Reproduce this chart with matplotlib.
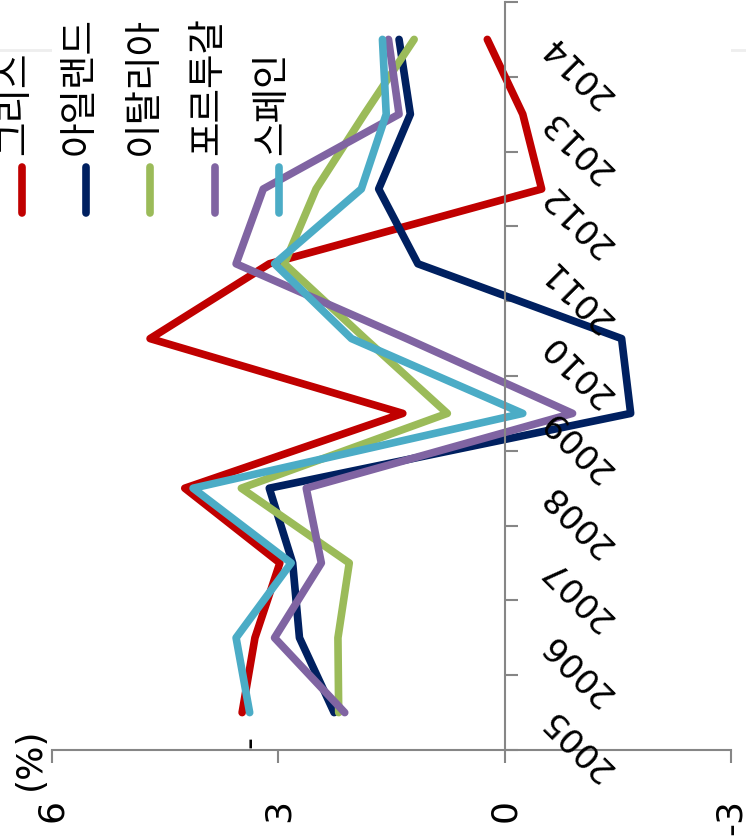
import matplotlib
matplotlib.use('Agg')
import matplotlib.pyplot as plt
from matplotlib.lines import Line2D

# 데이터 (그림에서 읽은 값, %)
years = [2005, 2006, 2007, 2008, 2009, 2010, 2011, 2012, 2013, 2014]
countries = ['그리스', '아일랜드', '이탈리아', '포르투갈', '스페인']
colors = ['#C00000', '#002060', '#9BBB59', '#8064A2', '#4BACC6']

greece = [3.48, 3.31, 2.98, 4.24, 1.35, 4.70, 3.12, -0.49, -0.24, 0.23]
ireland = [2.26, 2.72, 2.81, 3.12, -1.67, -1.55, 1.15, 1.67, 1.25, 1.40]
italy = [2.20, 2.21, 2.06, 3.49, 0.76, 1.85, 2.92, 2.50, 1.86, 1.20]
portugal = [2.12, 3.05, 2.43, 2.63, -0.90, 1.30, 3.56, 3.20, 1.40, 1.54]
spain = [3.38, 3.56, 2.83, 4.13, -0.24, 2.03, 3.05, 1.90, 1.57, 1.62]
series = [greece, ireland, italy, portugal, spain]

value_ticks = [6, 3, 0, -3]
value_labels = ['6', '3', '0', '-3']

W, H = 746, 840
fig = plt.figure(figsize=(W / 100, H / 100), dpi=100)
ax = fig.add_axes([52 / W, 1 - 750 / H, (731 - 52) / W, 748 / H])

# 회전된 차트: 값은 가로축(6 -> -3), 연도는 세로축
for vals, c in zip(series, colors):
    ax.plot(vals, years, color=c, lw=5.5, solid_capstyle='round',
            solid_joinstyle='round')

ax.set_xlim(6, -3)
ax.set_ylim(years[0] - 0.5, years[-1] + 0.5)

grey = '#868686'
for s in ['top', 'left']:
    ax.spines[s].set_visible(False)
ax.spines['bottom'].set_color(grey)
ax.spines['bottom'].set_linewidth(1.5)
ax.spines['right'].set_position(('data', 0))
ax.spines['right'].set_color(grey)
ax.spines['right'].set_linewidth(1.5)

ax.set_xticks(value_ticks)
ax.set_xticklabels(value_labels, rotation=90, fontsize=26)
ax.tick_params(axis='x', direction='out', length=9.5, width=1.5, color=grey,
               pad=25.5)

ax.yaxis.set_ticks_position('right')
ax.set_yticks([y - 0.5 for y in years] + [years[-1] + 0.5])
ax.set_yticklabels([])
ax.tick_params(axis='y', direction='out', length=9, width=1.5, color=grey)

# 연도 라벨 (45도 회전된 원래 라벨)
for y in years:
    ax.text(-0.56, y, str(y), rotation=135, rotation_mode='anchor',
            ha='right', va='center', fontsize=24.5)

# (%) 표시
fig.text(30 / W, 1 - 759 / H, '(%)', rotation=90, fontsize=26,
         ha='center', va='center')
fig.text(250 / W, 1 - 742 / H, '-', rotation=90, fontsize=24,
         ha='center', va='center')

# 연한 가로선
fig.add_artist(Line2D([0, 1], [1 - 50 / H, 1 - 50 / H], color='#eeeeee',
                      lw=2, zorder=0))

# 범례 (회전)
for i, (name, c) in enumerate(zip(countries, colors)):
    x = 21.7 + i * 64.3
    fig.add_artist(Line2D([x / W, x / W], [1 - 167 / H, 1 - 213 / H],
                          color=c, lw=5.5, solid_capstyle='round'))
    fig.text((x - 7) / W, 1 - 155 / H, name, rotation=90, fontsize=27,
             family=['Noto Sans CJK KR', 'DejaVu Sans'], weight='medium',
             ha='center', va='bottom')

fig.savefig('out.png', dpi=100)
